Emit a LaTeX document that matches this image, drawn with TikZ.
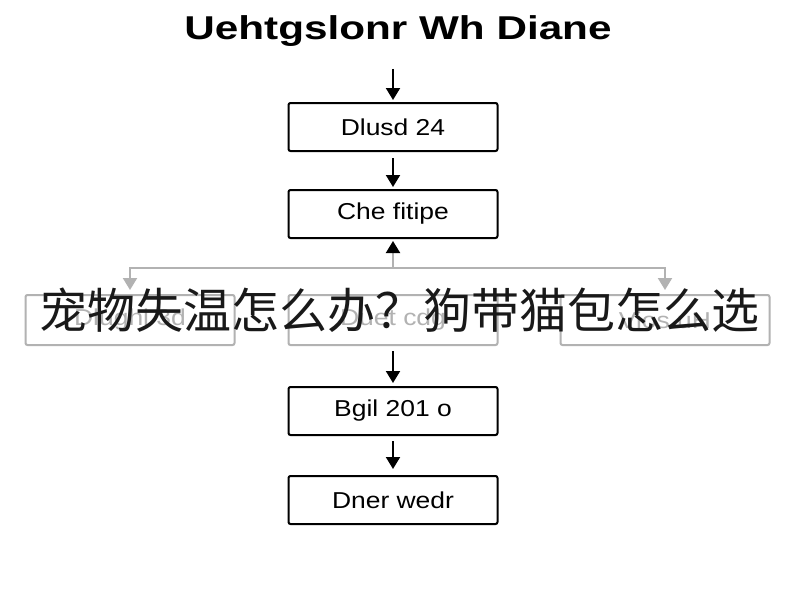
\documentclass[tikz,border=0pt]{standalone}
\usepackage{fontspec}
\setmainfont{Liberation Sans}
\newfontfamily\cjk{Noto Sans CJK SC}
\usetikzlibrary{arrows.meta}
\newcommand{\stretchtxt}[2][1.15]{\scalebox{#1}[1]{#2}}
\tikzset{
  flowbox/.style={draw, line width=2pt, rounded corners=2pt, minimum width=209pt, minimum height=48pt, font=\fontsize{23}{28}\selectfont},
  fadebox/.style={flowbox, draw=black!30, text=black!30, minimum height=50pt},
  flowarr/.style={line width=2pt, -{Triangle[width=14pt,length=12pt]}},
  fadearr/.style={draw=black!30, line width=2pt, -{Triangle[width=14pt,length=12pt]}}
}
\begin{document}
\begin{tikzpicture}[x=1pt,y=-1pt]
\useasboundingbox[fill=white] (0,0) rectangle (800,600);
\node[font=\bfseries\fontsize{33}{38}\selectfont] (title) at (398,31) {\stretchtxt[1.28]{Uehtgslonr Wh Diane}};
\node[flowbox] (dlusd) at (393,127) {\stretchtxt{Dlusd 24}};
\node[flowbox] (che) at (393,214) {\stretchtxt{Che fitipe}};
\node[fadebox] (fleft) at (130,320) {\stretchtxt{Dlughl 3d}};
\node[fadebox] (fmid) at (393,320) {\stretchtxt{Duet cdg}};
\node[fadebox] (fright) at (665,320) {\stretchtxt{Vios uH}};
\node[flowbox] (bgil) at (393,411) {\stretchtxt{Bgil 201 o}};
\node[flowbox] (dner) at (393,500) {\stretchtxt{Dner wedr}};
\coordinate (split) at (393,268);

\draw[flowarr, shorten <=19pt, shorten >=2pt] (title.south -| dlusd.north) -- (dlusd);
\draw[flowarr, shorten <=6pt, shorten >=2pt] (dlusd) -- (che);
\draw[fadearr, -{Triangle[width=14pt,length=12pt,color=black]}, shorten >=2pt] (split) -- (che);
\draw[fadearr, shorten >=4pt] (split) -| (fleft);
\draw[fadearr, shorten >=4pt] (split) -| (fright);
\draw[flowarr, shorten <=5pt, shorten >=3pt] (fmid) -- (bgil);
\draw[flowarr, shorten <=5pt, shorten >=6pt] (bgil) -- (dner);

\node[font=\cjk\fontsize{48}{56}\selectfont, text=black!90, inner sep=0pt] (headline) at (399,310) {宠物失温怎么办？狗带猫包怎么选};
\end{tikzpicture}
\end{document}
